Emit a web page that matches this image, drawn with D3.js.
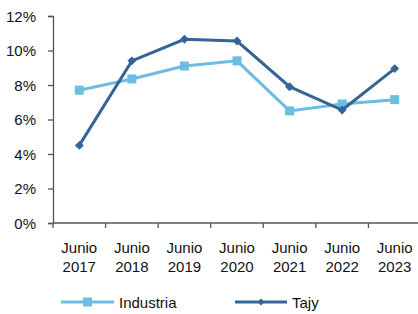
<!DOCTYPE html>
<html>
<head>
<meta charset="utf-8">
<script src="https://cdn.jsdelivr.net/npm/d3@7"></script>
<style>
  body { margin: 0; background: #fff; }
  text { font-family: "Liberation Sans", Arial, sans-serif; font-size: 15px; fill: #111; }
</style>
</head>
<body>
<svg id="chart" width="418" height="314"></svg>
<script>
// data
var years = ["2017", "2018", "2019", "2020", "2021", "2022", "2023"];
var industria = [7.7, 8.35, 9.1, 9.4, 6.5, 6.9, 7.15];
var tajy = [4.5, 9.4, 10.65, 10.55, 7.9, 6.55, 8.95];
var yTicks = [0, 2, 4, 6, 8, 10, 12];

var lightBlue = "#6cbde0", darkBlue = "#356597", axisCol = "#555";

var svg = d3.select("#chart");
var mLeft = 53, mRight = 421, mTop = 16, mBottom = 223;

var x = d3.scaleBand().domain(years).range([mLeft, mRight]);
var y = d3.scaleLinear().domain([0, 12]).range([mBottom, mTop]);

// y axis
var yAxis = svg.append("g").attr("transform", "translate(" + mLeft + ",0)")
  .call(d3.axisLeft(y).tickValues(yTicks).tickSize(5).tickFormat(""));
yAxis.select(".domain").attr("stroke", axisCol).attr("stroke-width", 1.3);
yAxis.selectAll(".tick line").attr("stroke", axisCol).attr("stroke-width", 1.3);
svg.selectAll(".yl").data(yTicks).enter().append("text")
  .attr("text-anchor", "end")
  .attr("x", 36).attr("y", function(d){ return y(d) + 5.5; })
  .text(function(d){ return d + "%"; });

// x axis: ticks on band boundaries
var xg = svg.append("g");
xg.append("line").attr("x1", mLeft).attr("x2", mRight).attr("y1", mBottom).attr("y2", mBottom)
  .attr("stroke", axisCol).attr("stroke-width", 1.3);
xg.selectAll(".xt").data(years).enter().append("line")
  .attr("x1", function(d){ return x(d); }).attr("x2", function(d){ return x(d); })
  .attr("y1", mBottom).attr("y2", mBottom + 5)
  .attr("stroke", axisCol).attr("stroke-width", 1.3);
var lab = xg.selectAll(".xl").data(years).enter().append("text")
  .attr("text-anchor", "middle");
lab.append("tspan").attr("x", function(d){ return x(d) + x.bandwidth() / 2; }).attr("y", 253).text("Junio");
lab.append("tspan").attr("x", function(d){ return x(d) + x.bandwidth() / 2; }).attr("y", 272).text(function(d){ return d; });

var cx = function(d, i){ return x(years[i]) + x.bandwidth() / 2; };
var line = d3.line().x(cx).y(function(d){ return y(d); });

// Industria
svg.append("path").datum(industria).attr("d", line)
  .attr("fill", "none").attr("stroke", lightBlue).attr("stroke-width", 3);
svg.selectAll(".sq").data(industria).enter().append("rect")
  .attr("x", function(d, i){ return cx(d, i) - 4.5; })
  .attr("y", function(d){ return y(d) - 4.5; })
  .attr("width", 9).attr("height", 9).attr("fill", lightBlue);

// Tajy
svg.append("path").datum(tajy).attr("d", line)
  .attr("fill", "none").attr("stroke", darkBlue).attr("stroke-width", 3);
svg.selectAll(".dm").data(tajy).enter().append("path")
  .attr("d", d3.symbol(d3.symbolSquare, 40))
  .attr("transform", function(d, i){ return "translate(" + cx(d, i) + "," + y(d) + ") rotate(45)"; })
  .attr("fill", darkBlue);

// legend
var lg = svg.append("g");
lg.append("line").attr("x1", 61).attr("x2", 114).attr("y1", 302).attr("y2", 302)
  .attr("stroke", lightBlue).attr("stroke-width", 3);
lg.append("rect").attr("x", 83).attr("y", 297.5).attr("width", 9).attr("height", 9).attr("fill", lightBlue);
lg.append("text").attr("x", 119).attr("y", 308).text("Industria");
lg.append("line").attr("x1", 235).attr("x2", 287).attr("y1", 302).attr("y2", 302)
  .attr("stroke", darkBlue).attr("stroke-width", 3);
lg.append("path").attr("d", d3.symbol(d3.symbolSquare, 25))
  .attr("transform", "translate(261,302) rotate(45)").attr("fill", darkBlue);
lg.append("text").attr("x", 292).attr("y", 308).text("Tajy");
</script>
</body>
</html>
